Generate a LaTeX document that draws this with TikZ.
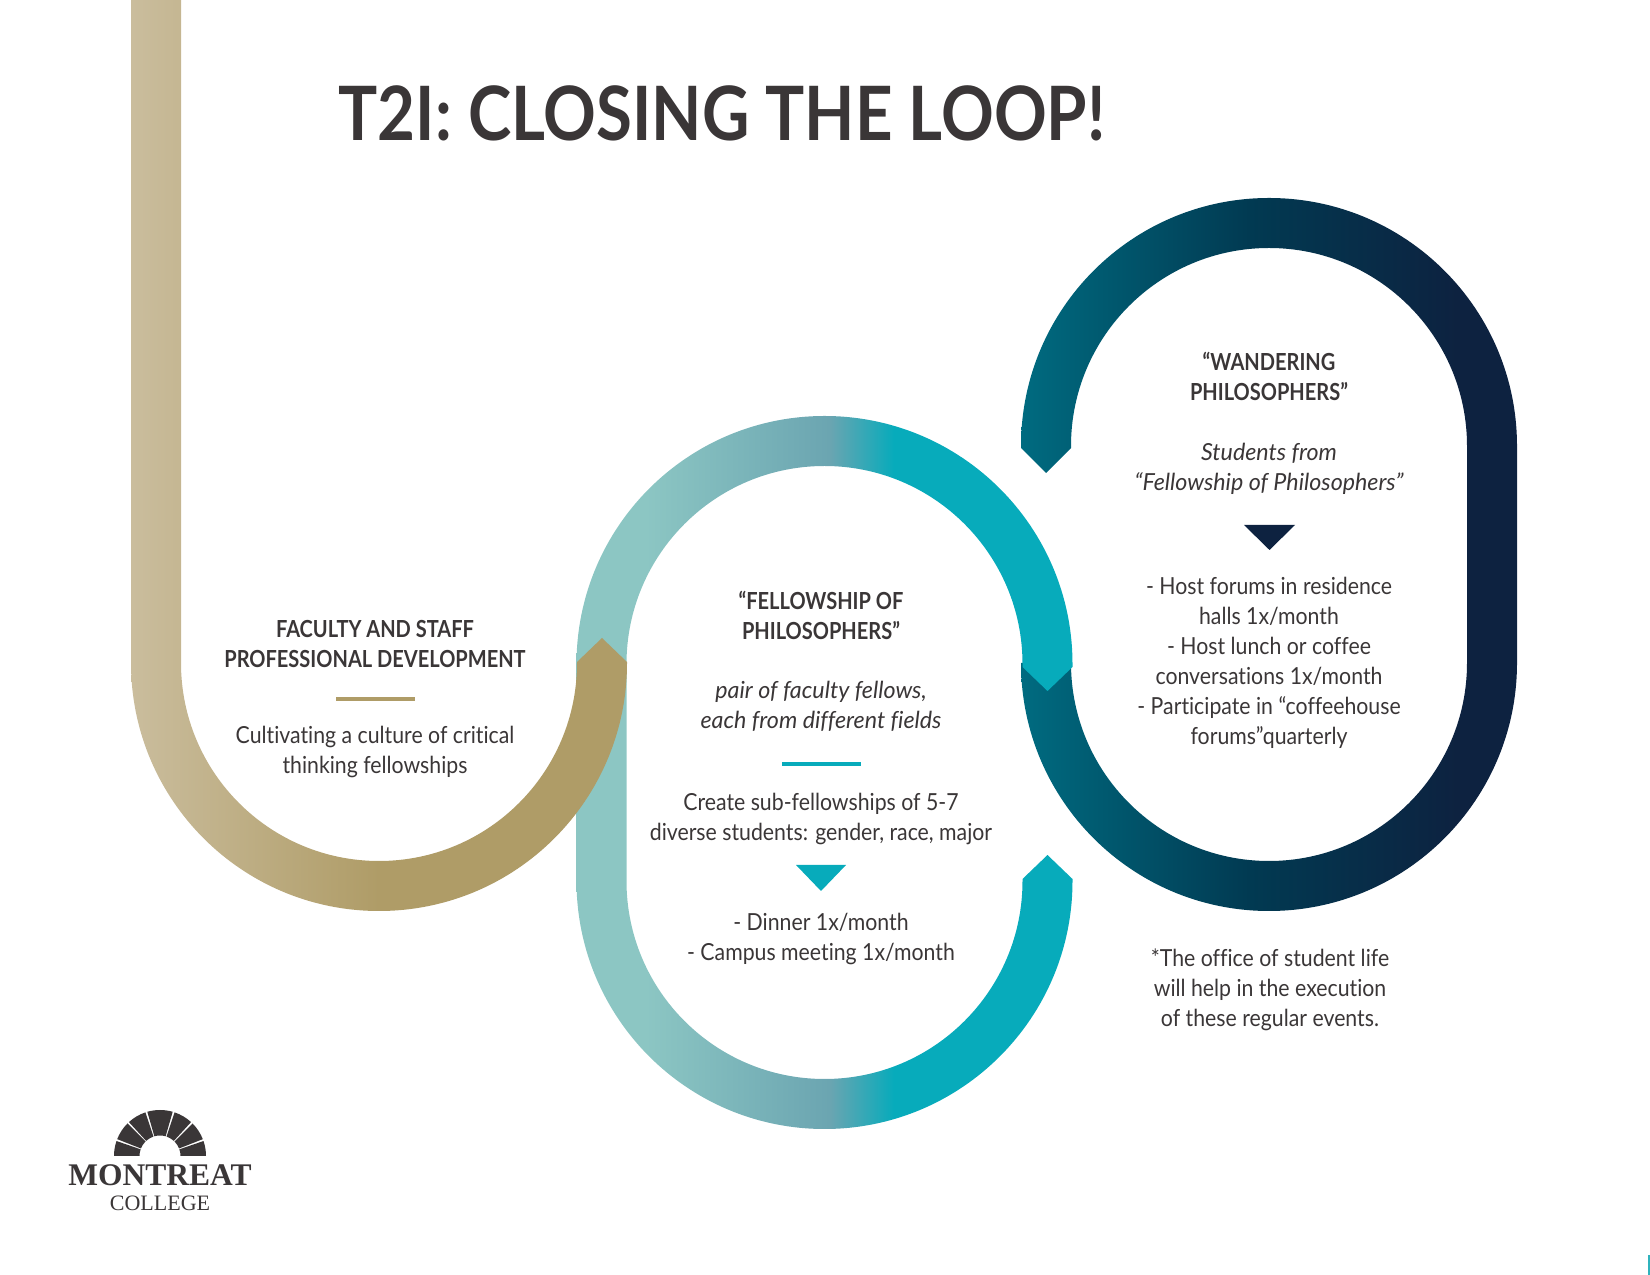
\documentclass[tikz,border=0pt]{standalone}
\usepackage{fontspec}
\setmainfont{Lato}[FakeStretch=0.905,Ligatures=NoCommon]
\newfontfamily\headfont{Lato Bold}[FakeStretch=0.852,Ligatures=NoCommon]
\newfontfamily\subfont{Lato Italic}[FakeStretch=0.99,Ligatures=NoCommon]
\newfontfamily\titlefont{Lato Bold}[FakeStretch=0.872]
\newfontfamily\logofont{Liberation Serif}
\definecolor{ink}{HTML}{3A3637}
\definecolor{tanL}{HTML}{CABD9D}
\definecolor{tanD}{HTML}{AF9C67}
\definecolor{tealL}{HTML}{8CC6C3}
\definecolor{tealM}{HTML}{6BA5B1}
\definecolor{tealD}{HTML}{07ABBB}
\definecolor{navyL}{HTML}{006B80}
\definecolor{navyM}{HTML}{013A52}
\definecolor{navyD}{HTML}{0D2240}
\pgfdeclarehorizontalshading{tanshade}{100bp}{color(0bp)=(tanL); color(25bp)=(tanL); color(50bp)=(tanD); color(100bp)=(tanD)}
\pgfdeclarehorizontalshading{tealshade}{100bp}{color(0bp)=(tealL); color(32bp)=(tealL); color(50.5bp)=(tealM); color(57bp)=(tealD); color(100bp)=(tealD)}
\pgfdeclarehorizontalshading{navyshade}{100bp}{color(0bp)=(navyL); color(25bp)=(navyL); color(48bp)=(navyM); color(69bp)=(navyD); color(100bp)=(navyD)}
\tikzset{
  bodytext/.style={text=ink,align=center,inner sep=0pt,font=\fontsize{23.5}{30}\selectfont},
  headtext/.style={text=ink,align=center,inner sep=0pt,font=\fontsize{23.5}{30}\selectfont\headfont},
  subtext/.style={text=ink,align=center,inner sep=0pt,font=\fontsize{23.5}{30}\selectfont\subfont},
  rulebar/.style={line width=4pt},
}
\begin{document}
\begin{tikzpicture}[x=1pt,y=1pt]
\useasboundingbox (0,0) rectangle (1650,1275);
% navy ribbon
\shade[shading=navyshade] (1021,612) arc[start angle=180,end angle=360,radius=248] -- (1517,829)
  arc[start angle=0,end angle=180,radius=248] -- (1021,827) -- (1046,802) -- (1071,827) -- (1071,829)
  arc[start angle=180,end angle=0,radius=198] -- (1467,612)
  arc[start angle=0,end angle=-180,radius=198] -- cycle;
% teal lower ribbon
\shade[shading=tealshade] (576.5,611) -- (576.5,394) arc[start angle=180,end angle=360,radius=248]
  -- (1072.5,396) -- (1047.5,420) -- (1022.5,396) -- (1022.5,394)
  arc[start angle=0,end angle=-180,radius=198] -- (626.5,611) -- cycle;
% teal upper ribbon
\shade[shading=tealshade] (576.5,611) arc[start angle=180,end angle=0,radius=248]
  -- (1072.5,608) -- (1047.5,584) -- (1022.5,608) -- (1022.5,611)
  arc[start angle=0,end angle=180,radius=198] -- cycle;
% tan ribbon
\shade[shading=tanshade] (131,1275) -- (131,612) arc[start angle=180,end angle=360,radius=248]
  -- (627,613) -- (602,637) -- (577,613) -- (577,612)
  arc[start angle=0,end angle=-180,radius=198] -- (181,1275) -- cycle;
% title
\node[text=ink,anchor=center,inner sep=0pt,font=\fontsize{75}{80}\selectfont\titlefont] (title) at (722,1162) {T2I: CLOSING THE LOOP!};
% faculty block
\node[headtext] (facultyhead) at (375,631) {FACULTY AND STAFF\\PROFESSIONAL DEVELOPMENT};
\draw[rulebar,tanD] (336,576) -- (415,576);
\node[bodytext] (facultybody) at (375,523) {Cultivating a culture of critical\\thinking fellowships};
% fellowship block
\node[headtext] (fellowhead) at (821,660) {“FELLOWSHIP OF\\PHILOSOPHERS”};
\node[subtext] (fellowsub) at (821,568.5) {pair of faculty fellows,\\each from different fields};
\draw[rulebar,tealD] (782,511) -- (861,511);
\node[bodytext] (fellowbody) at (821,456) {Create sub-fellowships of 5-7\\diverse students: gender, race, major};
\fill[tealD] (796,410) -- (846,410) -- (821,384) -- cycle;
\node[bodytext] (fellowlist) at (821,336.5) {- Dinner 1x/month\\- Campus meeting 1x/month};
% wandering block
\node[headtext] (wanderhead) at (1269,899) {“WANDERING\\PHILOSOPHERS”};
\node[subtext] (wandersub) at (1269,806) {Students from\\“Fellowship of Philosophers”};
\fill[navyD] (1244,750) -- (1295,750) -- (1269.5,725) -- cycle;
\node[bodytext] (wanderlist) at (1269,612) {- Host forums in residence\\halls 1x/month\\- Host lunch or coffee\\conversations 1x/month\\- Participate in “coffeehouse\\forums”quarterly};
\node[bodytext] (note) at (1270,285.5) {*The office of student life\\will help in the execution\\of these regular events.};
% logo
\foreach \a/\b in {0/19,21.5/45,47.5/71.5,74/106,108.5/132.5,135/158.5,161/180}
  \fill[ink] (160,119) ++(\a:46) arc[start angle=\a,end angle=\b,radius=46] -- ++(\b+180:25.5) arc[start angle=\b,end angle=\a,radius=20.5] -- cycle;
\node[text=ink,inner sep=0pt,font=\logofont\bfseries\fontsize{31.5}{32}\selectfont] (logoa) at (160,100) {MONTREAT};
\node[text=ink,inner sep=0pt,font=\logofont\fontsize{22}{24}\selectfont] (logob) at (160,72) {COLLEGE};
% corner sliver
\fill[tealD!70!tealL] (1648,0) rectangle (1650,20);
\end{tikzpicture}
\end{document}
